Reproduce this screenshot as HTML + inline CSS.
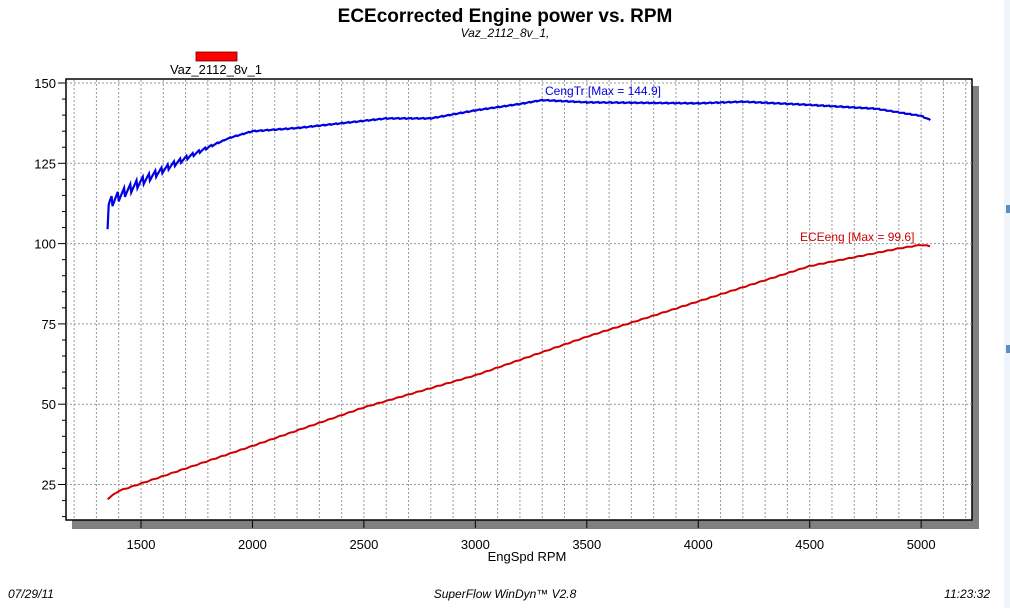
<!DOCTYPE html>
<html><head><style>
body{margin:0;background:#fff;width:1010px;height:608px;overflow:hidden;font-family:"Liberation Sans",Arial,sans-serif}
</style></head><body>
<svg id="s" width="1010" height="608" xmlns="http://www.w3.org/2000/svg" font-family="Liberation Sans, Arial, sans-serif">
<text x="505" y="22" text-anchor="middle" font-size="19" font-weight="bold">ECEcorrected Engine power vs. RPM</text>
<text x="505" y="37" text-anchor="middle" font-size="12" font-style="italic">Vaz_2112_8v_1,</text>
<rect x="196" y="52" width="41" height="9" fill="#f00" stroke="#600" stroke-width="0.8"/>
<text x="216" y="74" text-anchor="middle" font-size="13">Vaz_2112_8v_1</text>
<rect x="72" y="86" width="907" height="443" fill="#808080"/>
<rect x="66" y="79" width="906" height="441" fill="#fff" stroke="#000" stroke-width="1.5"/>
<g id="grid" stroke="#999" stroke-width="1" stroke-dasharray="2,2"></g>
<g id="ticks" stroke="#000" stroke-width="1"></g>
<g id="lab" font-size="13" fill="#000"></g>
<path id="blue" fill="none" stroke="#0000e0" stroke-width="2.2"/>
<path id="red" fill="none" stroke="#d00000" stroke-width="2"/>
<text x="545" y="95" font-size="12" fill="#0000e0">CengTr [Max = 144.9]</text>
<text x="800" y="241" font-size="12" fill="#d00000">ECEeng [Max = 99.6]</text>
<text x="527" y="561" text-anchor="middle" font-size="13">EngSpd  RPM</text>
<text x="8" y="598" font-size="12" font-style="italic">07/29/11</text>
<text x="505" y="598" text-anchor="middle" font-size="12" font-style="italic">SuperFlow WinDyn™ V2.8</text>
<text x="990" y="598" text-anchor="end" font-size="12" font-style="italic">11:23:32</text>
<rect x="1004" y="0" width="6" height="608" fill="#eef4fa"/>
<rect x="1006" y="205" width="4" height="8" fill="#5b8fc0"/>
<rect x="1006" y="345" width="4" height="8" fill="#5b8fc0"/>
</svg>
<script>
const X=r=>141+(r-1500)*0.2229, Y=v=>83+(150-v)*3.212;
const ns="http://www.w3.org/2000/svg";
function el(p,t,a,txt){const e=document.createElementNS(ns,t);for(const k in a)e.setAttribute(k,a[k]);if(txt)e.textContent=txt;document.getElementById(p).appendChild(e);}
for(let r=1200;r<=5200;r+=100){const x=X(r);el("grid","line",{x1:x,y1:80,x2:x,y2:520});
 if(r%500==0){el("ticks","line",{x1:x,y1:520,x2:x,y2:528});el("lab","text",{x:x,y:549,"text-anchor":"middle"},String(r));}}
for(let v=25;v<=150;v+=25){el("grid","line",{x1:66,y1:Y(v),x2:972,y2:Y(v)});el("ticks","line",{x1:58,y1:Y(v),x2:66,y2:Y(v)});el("lab","text",{x:56,y:Y(v)+5,"text-anchor":"end"},String(v));}
for(let v=15;v<=150;v+=5){if(v%25)el("ticks","line",{x1:62,y1:Y(v),x2:66,y2:Y(v)});}
function interp(pts,r){for(let i=0;i<pts.length-1;i++){if(r<=pts[i+1][0]){const t=(r-pts[i][0])/(pts[i+1][0]-pts[i][0]);return pts[i][1]+t*(pts[i+1][1]-pts[i][1]);}}return pts[pts.length-1][1];}
const B=[[1360,113],[1400,115],[1500,119.5],[1650,125],[1800,130],[1900,133],[2000,135],[2200,136],[2400,137.5],[2600,139],[2800,139],[3000,141.5],[3200,143.5],[3300,144.7],[3500,144],[4000,143.7],[4200,144.2],[4500,143.2],[4800,142],[4950,140.3],[5000,139.8],[5040,138.5]];
let d=`M${X(1350)},${Y(104.5)} L${X(1355)},${Y(112)}`;
for(let r=1360;r<=5040;r+=4){let v=interp(B,r);let amp=r<1900?2*(1900-r)/550:0.15;v+=amp*((r%28)/14-1);d+=` L${X(r).toFixed(1)},${Y(v).toFixed(1)}`;}
document.getElementById("blue").setAttribute("d",d);
const R=[[1350,20.5],[1400,23],[1500,25.3],[2000,37],[2500,49],[3000,59],[3500,71],[4000,82],[4500,93],[4900,98.5],[5000,99.6],[5040,99.2]];
d="";for(let r=1350;r<=5040;r+=5){let v=interp(R,r)+0.1*Math.sin(r/7);d+=(d?" L":"M")+X(r).toFixed(1)+","+Y(v).toFixed(1);}
document.getElementById("red").setAttribute("d",d);
</script>
</body></html>
